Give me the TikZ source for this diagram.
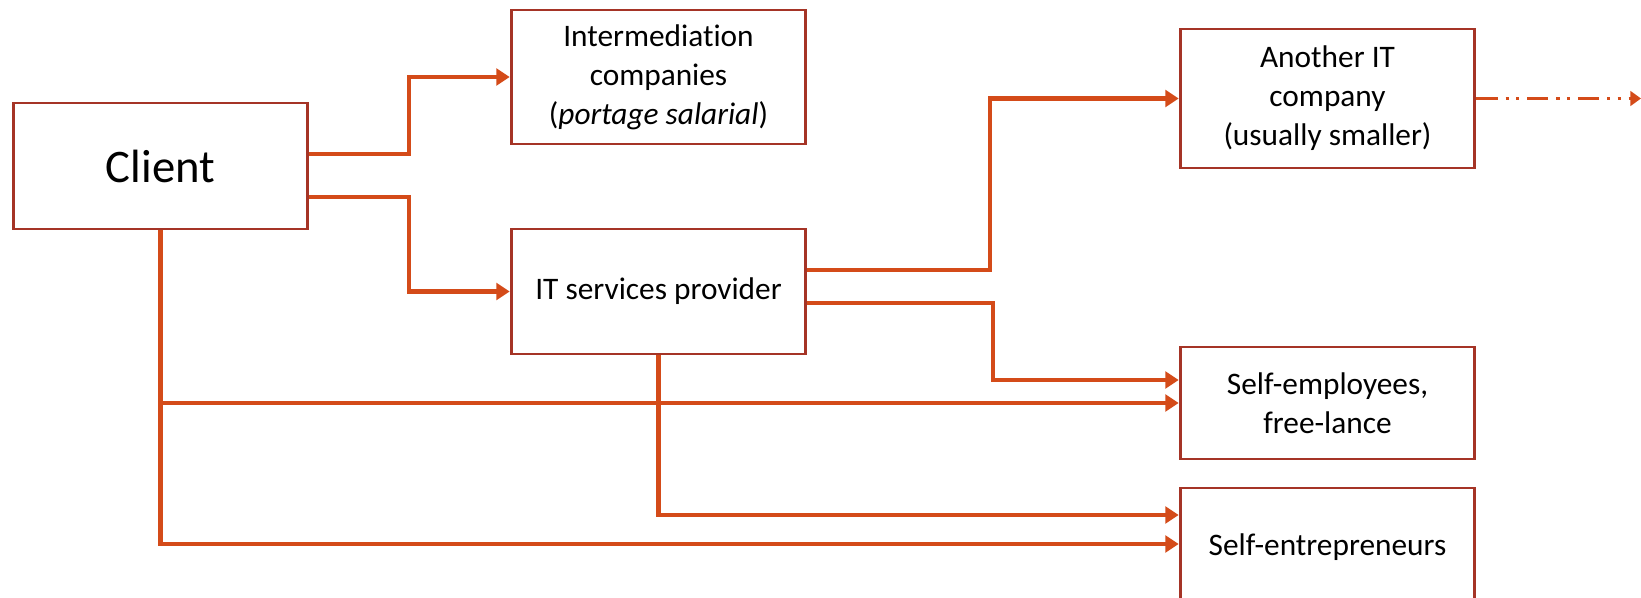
\documentclass[tikz,border=0pt]{standalone}
\usepackage{fontspec}
\setmainfont{Carlito}[Ligatures=NoCommon]
\usepackage{tikz}
\usetikzlibrary{arrows.meta,calc}
\definecolor{flowred}{RGB}{212,75,25}
\definecolor{boxred}{RGB}{165,52,38}
\tikzset{
	box/.style={draw=boxred, line width=2.2pt, fill=white, align=center, inner sep=0pt,
		minimum width=221pt, font=\fontsize{23.5}{29.25}\selectfont},
	flow/.style={draw=flowred, line width=3.7pt, -{Triangle[length=10pt,width=12.5pt]}},
	dashflow/.style={draw=flowred, line width=2.5pt, -{Triangle[length=8pt,width=11pt]},
		dash pattern=on 16pt off 6pt on 2.3pt off 5.5pt on 2.3pt off 6pt}
}

\begin{document}
\begin{tikzpicture}[x=0.75pt, y=-0.75pt]
			%%%%% START %%%%%
			
			\useasboundingbox (0, 0) rectangle (1641, 598);
			\clip (0, 0) rectangle (1641, 598);
			
			\node[box, minimum height=94.5pt, font=\fontsize{35}{42}\selectfont] (client) at (160.5, 166) {Client};
			\node[box, minimum height=100.5pt] (inter) at (658.5, 77) {Intermediation\\companies\\(\textit{portage salarial})};
			\node[box, minimum height=93.75pt] (it) at (658.5, 291.5) {IT services provider};
			\node[box, minimum height=104.25pt] (another) at (1327.5, 98.5) {Another IT\\company\\(usually smaller)};
			\node[box, minimum height=84pt] (selfemp) at (1327.5, 403) {Self-employees,\\free-lance};
			\node[box, minimum height=88.5pt] (selfent) at (1327.5, 547) {Self-entrepreneurs};
			
			\coordinate (offpage) at (1641, 98.5);
			
			\draw[flow] (client.east |- 0,154) -- (409, 154) |- (inter.west);
			\draw[flow] (client.east |- 0,197) -- (409, 197) |- (it.west);
			
			\draw[flow] (it.east |- 0,270) -- (990, 270) |- (another.west);
			\draw[flow] (it.east |- 0,303) -- (993, 303) |- (selfemp.west |- 0,380);
			
			\draw[flow] (client.south) |- (selfemp.west);
			\draw[flow] (it.south) |- (selfent.west |- 0,515);
			\draw[flow] (client.south) |- (selfent.west |- 0,544);
			
			\draw[dashflow] (another.east) -- (offpage);
			
			%%%%% END %%%%%
		\end{tikzpicture}
\end{document}
